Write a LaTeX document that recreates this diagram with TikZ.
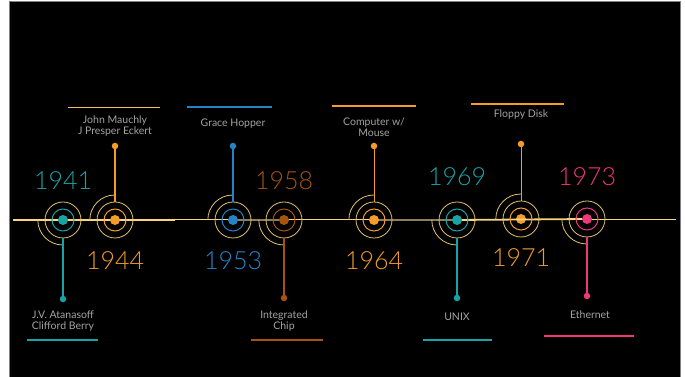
\documentclass[tikz,border=0pt]{standalone}
\usepackage{fontspec}
\setmainfont{Lato}
\newfontfamily\yearfont{Lato}[UprightFont={* Light}]
\usetikzlibrary{positioning}

\definecolor{tealc}{HTML}{18A3A6}
\definecolor{orangec}{HTML}{F39C2A}
\definecolor{bluec}{HTML}{2484C6}
\definecolor{brownc}{HTML}{A5530F}
\definecolor{pinkc}{HTML}{EC3778}
\definecolor{ringc}{HTML}{E3C26E}
\definecolor{axisc}{HTML}{FAD580}
\definecolor{dimc}{HTML}{8F7F57}
\definecolor{textc}{HTML}{A3A3A3}

\tikzset{x=1pt, y=1pt, on grid,
  dot/.style={circle, fill=#1, inner sep=0pt, minimum size=10pt},
  inring/.style={circle, draw=#1, line width=1pt, inner sep=0pt, minimum size=22pt},
  outring/.style={circle, draw=ringc, line width=0.8pt, inner sep=0pt, minimum size=36pt},
  halo/.style={circle, inner sep=0pt, minimum size=50pt},
  arcline/.style={draw=ringc, line width=0.8pt},
  enddot/.style={circle, fill=#1, inner sep=0pt, minimum size=6.5pt},
  stem/.style={draw=#1, line width=1.3pt},
  year/.style={text=#1, font=\yearfont\fontsize{25}{25}\selectfont, inner sep=0pt},
  evtext/.style={text=textc, font=\fontsize{10.5}{11}\selectfont, align=center, inner sep=0pt},
  bar/.style={draw=#1, line width=1.5pt},
}

\begin{document}
\begin{tikzpicture}

  \useasboundingbox (0,0) rectangle (685,377);
  \fill[white] (0,0) rectangle (685,377);
  \filldraw[fill=black, draw=gray] (9,0) rectangle (680,376);

  % axis
  \coordinate (axL) at (13,157);
  \coordinate (axM) at (175,157);
  \coordinate (axR) at (676,157);
  \draw[draw=axisc, line width=1.8pt] (axL) -- (axM);
  \draw[draw=axisc, line width=1pt] (axM) -- (axR);

  % centres
  \node (d41) [dot=tealc]   at (63,157)  {};
  \node (d44) [dot=orangec] at (115,157) {};
  \node (d53) [dot=bluec]   at (233,157) {};
  \node (d58) [dot=brownc]  at (284,157) {};
  \node (d64) [dot=orangec] at (374,157) {};
  \node (d69) [dot=tealc]   at (457,157) {};
  \node (d71) [dot=orangec] at (521,158) {};
  \node (d73) [dot=pinkc]   at (587,158) {};

  \draw[draw=dimc, line width=1.6pt] (d53) -- (d58);
  \draw[draw=dimc, line width=1.6pt] (d64) -- (d69);
  \draw[draw=axisc, line width=1.8pt] (d69) -- (d73);

  % rings
  \node (r41) [inring=tealc]   at (d41) {};
  \node (r44) [inring=orangec] at (d44) {};
  \node (r53) [inring=bluec]   at (d53) {};
  \node (r58) [inring=brownc]  at (d58) {};
  \node (r64) [inring=orangec] at (d64) {};
  \node (r69) [inring=tealc]   at (d69) {};
  \node (r71) [inring=orangec] at (d71) {};
  \node (r73) [inring=pinkc]   at (d73) {};

  \node (o41) [outring] at (d41) {};
  \node (o44) [outring] at (d44) {};
  \node (o53) [outring] at (d53) {};
  \node (o58) [outring] at (d58) {};
  \node (o64) [outring] at (d64) {};
  \node (o69) [outring] at (d69) {};
  \node (o71) [outring] at (d71) {};
  \node (o73) [outring] at (d73) {};

  \node (h41) [halo] at (d41) {};
  \node (h44) [halo] at (d44) {};
  \node (h53) [halo] at (d53) {};
  \node (h58) [halo] at (d58) {};
  \node (h64) [halo] at (d64) {};
  \node (h69) [halo] at (d69) {};
  \node (h71) [halo] at (d71) {};
  \node (h73) [halo] at (d73) {};

  \draw[arcline] (h41.west) arc[start angle=180, end angle=270, radius=25pt];
  \draw[arcline] (h44.west) arc[start angle=180, end angle=90,  radius=25pt];
  \draw[arcline] (h53.west) arc[start angle=180, end angle=90,  radius=25pt];
  \draw[arcline] (h58.west) arc[start angle=180, end angle=270, radius=25pt];
  \draw[arcline] (h64.west) arc[start angle=180, end angle=90,  radius=25pt];
  \draw[arcline] (h69.west) arc[start angle=180, end angle=270, radius=25pt];
  \draw[arcline] (h71.west) arc[start angle=180, end angle=90,  radius=25pt];
  \draw[arcline] (h73.west) arc[start angle=180, end angle=270, radius=25pt];

  % stems
  \node (e41) [enddot=tealc,   below=79pt of d41] {};
  \node (e44) [enddot=orangec, above=74pt of d44] {};
  \node (e53) [enddot=bluec,   above=74pt of d53] {};
  \node (e58) [enddot=brownc,  below=78pt of d58] {};
  \node (e64) [enddot=orangec, above=74pt of d64] {};
  \node (e69) [enddot=tealc,   below=78pt of d69] {};
  \node (e71) [enddot=orangec, above=75pt of d71] {};
  \node (e73) [enddot=pinkc,   below=77pt of d73] {};

  \draw[stem=tealc]   (o41.south) -- (e41);
  \draw[stem=orangec] (o44.north) -- (e44);
  \draw[stem=bluec]   (o53.north) -- (e53);
  \draw[stem=brownc]  (o58.south) -- (e58);
  \draw[stem=orangec, line width=0.9pt] (o64.north) -- (e64);
  \draw[stem=tealc]   (o69.south) -- (e69);
  \draw[stem=orangec, line width=0.9pt] (o71.north) -- (e71);
  \draw[stem=pinkc]   (o73.south) -- (e73);

  % years
  \node (y41) [year=tealc,   above=39pt of d41] {1941};
  \node (y44) [year=orangec, below=41pt of d44] {1944};
  \node (y53) [year=bluec,   below=41pt of d53] {1953};
  \node (y58) [year=brownc,  above=39pt of d58] {1958};
  \node (y64) [year=orangec, below=41pt of d64] {1964};
  \node (y69) [year=tealc,   above=43pt of d69] {1969};
  \node (y71) [year=orangec, below=39pt of d71] {1971};
  \node (y73) [year=pinkc,   above=42pt of d73] {1973};

  % texts
  \node (t41) [evtext, below=22pt of e41] {J.V. Atanasoff\\Clifford Berry};
  \node (t44) [evtext, above=20pt of e44] {John Mauchly\\J Presper Eckert};
  \node (t53) [evtext, above=22pt of e53] {Grace Hopper};
  \node (t58) [evtext, below=23pt of e58] {Integrated\\Chip};
  \node (t64) [evtext, above=19pt of e64] {Computer w/\\Mouse};
  \node (t69) [evtext, below=19pt of e69] {UNIX};
  \node (t71) [evtext, above=29pt of e71] {Floppy Disk};
  \node (t73) [evtext, below=19pt of e73, xshift=3pt] {Ethernet};

  % bars
  \draw[bar=tealc]   (27,37)  -- (98,37);
  \draw[bar=orangec!70!white, line width=0.8pt] (68,270) -- (160,270);
  \draw[bar=bluec]   (187,270) -- (272,270);
  \draw[bar=brownc]  (251,37) -- (323,37);
  \draw[bar=orangec] (332,271) -- (416,271);
  \draw[bar=tealc]   (423,37) -- (492,37);
  \draw[bar=orangec] (471,273) -- (564,273);
  \draw[bar=pinkc, line width=1.1pt] (544,41) -- (634,41);

\end{tikzpicture}
\end{document}
